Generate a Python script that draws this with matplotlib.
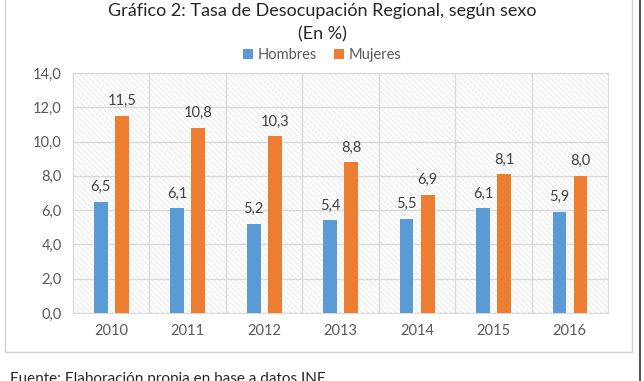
import matplotlib.pyplot as plt
from matplotlib.patches import Rectangle
from matplotlib.lines import Line2D
import numpy as np

plt.rcParams['font.family'] = ['Lato', 'DejaVu Sans']
plt.rcParams['hatch.color'] = '#e0e0e0'
plt.rcParams['hatch.linewidth'] = 0.5

years = ["2010", "2011", "2012", "2013", "2014", "2015", "2016"]
hombres = [6.5, 6.1, 5.2, 5.4, 5.5, 6.1, 5.9]
mujeres = [11.5, 10.8, 10.3, 8.8, 6.9, 8.1, 8.0]
yticks = [0, 2, 4, 6, 8, 10, 12, 14]

txt = '#595959'
blue = '#5b9bd5'
orange = '#ed7d31'

fig = plt.figure(figsize=(6.44, 3.81), dpi=100)
# chart outer border
fig.patches.append(Rectangle((5/644, 29/381), 627/644, 1.1, transform=fig.transFigure,
                             fill=False, edgecolor='#d0d0d0', lw=1.0))
fig.add_artist(Line2D([640/644, 640/644], [0, 1], transform=fig.transFigure, color='#555555', lw=1.5))

ax = fig.add_axes([73/644, 68/381, 535/644, 240/381])
x = np.arange(len(years))
w = 0.18
ax.add_patch(Rectangle((0, 0), 1, 1, transform=ax.transAxes, facecolor='white',
                       hatch='\\\\\\\\\\\\', edgecolor='#e0e0e0', lw=0, zorder=0))
b1 = ax.bar(x - 0.135, hombres, w, color=blue, label='Hombres', zorder=3)
b2 = ax.bar(x + 0.14, mujeres, w, color=orange, label='Mujeres', zorder=3)

for bars, vals in ((b1, hombres), (b2, mujeres)):
    for r, v in zip(bars, vals):
        ax.text(r.get_x() + r.get_width()/2, v + 0.45, f"{v:.1f}".replace('.', ','),
                ha='center', va='bottom', fontsize=10.5, color='#404040', zorder=4)

ax.set_xlim(-0.5, len(years) - 0.5)
ax.set_ylim(0, 14)
ax.set_yticks(yticks)
ax.set_yticklabels([f"{t:.1f}".replace('.', ',') for t in yticks])
ax.set_xticks(x)
ax.set_xticklabels(years)
ax.tick_params(length=0, labelsize=10.5, colors=txt, pad=8)
ax.grid(axis='y', color='#d9d9d9', lw=1, zorder=1)
for xv in np.arange(0.5, len(years) - 0.5):
    ax.axvline(xv, color='#d9d9d9', lw=1, zorder=1)
for s in ax.spines.values():
    s.set_color('#d9d9d9')

fig.text(0.5, (381 - 11)/381, "Gráfico 2: Tasa de Desocupación Regional, según sexo",
         ha='center', va='center', fontsize=13, color='#262626')
fig.text(0.5, (381 - 34)/381, "(En %)", ha='center', va='center', fontsize=13, color='#262626')
fig.legend(handles=[b1, b2], loc='center', bbox_to_anchor=(0.5, (381 - 55)/381), ncol=2,
           frameon=False, fontsize=10.5, labelcolor=txt, handlelength=0.7, handleheight=0.7,
           columnspacing=1.2, handletextpad=0.3)
fig.text(10/644, (381 - 379)/381, "Fuente: Elaboración propia en base a datos INE",
         ha='left', va='center', fontsize=11, color='#262626')

fig.savefig('out.png', dpi=100)
